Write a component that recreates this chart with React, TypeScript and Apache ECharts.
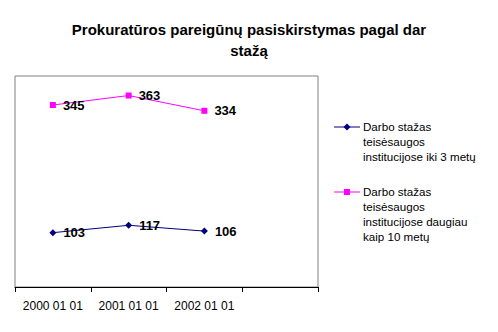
import React, { useEffect, useRef } from "react";
import * as echarts from "echarts";

const titleText = "Prokuratūros pareigūnų pasiskirstymas pagal dar\nstažą";
const categories = ["2000 01 01", "2001 01 01", "2002 01 01", ""];
const seriesNames = [
  "Darbo stažas\nteisėsaugos\ninstitucijose iki 3 metų",
  "Darbo stažas\nteisėsaugos\ninstitucijose daugiau\nkaip 10 metų",
];
const shortService = [103, 117, 106, null];
const longService = [345, 363, 334, null];
const colors = ["#000080", "#FF00FF"];
const symbols = ["diamond", "rect"];

const FONT = "Arial, 'Liberation Sans', sans-serif";

export default function App() {
  const ref = useRef<HTMLDivElement>(null);
  useEffect(() => {
    const chart = echarts.init(ref.current!, null, { renderer: "svg" });
    const legendX = 334;
    const legendTops = [127, 192];
    const legendGraphics: any[] = [];
    seriesNames.forEach((name, i) => {
      const y = legendTops[i];
      legendGraphics.push({
        type: "line",
        shape: { x1: legendX, y1: y, x2: legendX + 26, y2: y },
        style: { stroke: colors[i], lineWidth: 1 },
      });
      if (i === 0) {
        legendGraphics.push({
          type: "polygon",
          shape: { points: [[legendX + 13, y - 3.5], [legendX + 16.5, y], [legendX + 13, y + 3.5], [legendX + 9.5, y]] },
          style: { fill: colors[i] },
        });
      } else {
        legendGraphics.push({
          type: "rect",
          shape: { x: legendX + 10, y: y - 3, width: 6, height: 6 },
          style: { fill: colors[i] },
        });
      }
      legendGraphics.push({
        type: "text",
        x: legendX + 29,
        y: y - 8,
        style: {
          text: name,
          fill: "#000",
          font: `11.6px ${FONT}`,
          lineHeight: 15,
          verticalAlign: "top",
        },
      });
    });

    const makeSeries = (name: string, data: (number | null)[], i: number) => ({
      name,
      type: "line",
      data,
      symbol: symbols[i],
      symbolSize: i === 0 ? 7 : 6,
      lineStyle: { color: colors[i], width: 1 },
      itemStyle: { color: colors[i] },
      label: {
        show: true,
        position: "right",
        distance: 7,
        color: "#000",
        fontFamily: FONT,
        fontWeight: "bold",
        fontSize: 13,
      },
    });

    chart.setOption({
      animation: false,
      title: {
        text: titleText,
        left: "center",
        top: 14,
        textStyle: {
          fontFamily: FONT,
          fontWeight: "bold",
          fontSize: 15,
          lineHeight: 21,
          color: "#000",
        },
      },
      grid: {
        left: 15,
        top: 76,
        width: 303,
        height: 211,
        show: true,
        borderColor: "#808080",
        borderWidth: 1,
        backgroundColor: "#fff",
      },
      xAxis: {
        type: "category",
        data: categories,
        boundaryGap: true,
        axisLine: { lineStyle: { color: "#000", width: 1 } },
        axisTick: { show: true, length: 5, lineStyle: { color: "#000" } },
        axisLabel: {
          color: "#000",
          fontFamily: FONT,
          fontSize: 12,
          margin: 13,
          interval: 0,
        },
      },
      yAxis: {
        type: "value",
        min: 0,
        max: 400,
        show: false,
        splitLine: { show: false },
      },
      series: [
        makeSeries(seriesNames[0], shortService, 0),
        makeSeries(seriesNames[1], longService, 1),
      ],
      graphic: legendGraphics,
    });
    return () => chart.dispose();
  }, []);
  return (
    <div
      ref={ref}
      style={{ position: "fixed", left: 0, top: 0, width: 498, height: 332, background: "#fff" }}
    />
  );
}
